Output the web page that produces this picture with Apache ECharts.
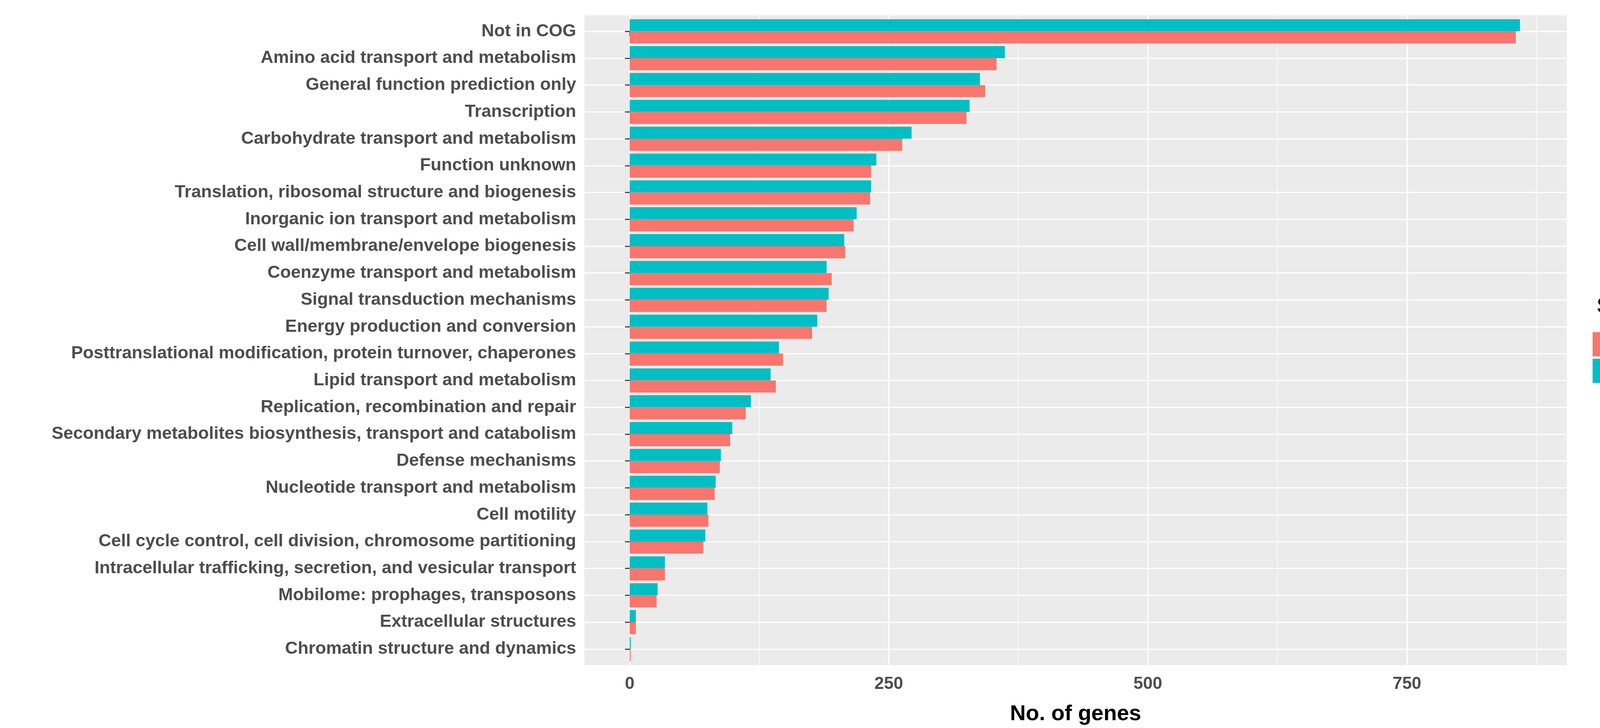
<!DOCTYPE html>
<html>
<head>
<meta charset="utf-8">
<script src="https://cdn.jsdelivr.net/npm/echarts@6/dist/echarts.min.js"></script>
<style>
html,body{margin:0;padding:0;background:#fff;overflow:hidden;}
#chart{width:4304px;height:1863px;}
</style>
</head>
<body>
<div id="chart"></div>
<script>
const categories = [
  "Not in COG",
  "Amino acid transport and metabolism",
  "General function prediction only",
  "Transcription",
  "Carbohydrate transport and metabolism",
  "Function unknown",
  "Translation, ribosomal structure and biogenesis",
  "Inorganic ion transport and metabolism",
  "Cell wall/membrane/envelope biogenesis",
  "Coenzyme transport and metabolism",
  "Signal transduction mechanisms",
  "Energy production and conversion",
  "Posttranslational modification, protein turnover, chaperones",
  "Lipid transport and metabolism",
  "Replication, recombination and repair",
  "Secondary metabolites biosynthesis, transport and catabolism",
  "Defense mechanisms",
  "Nucleotide transport and metabolism",
  "Cell motility",
  "Cell cycle control, cell division, chromosome partitioning",
  "Intracellular trafficking, secretion, and vesicular transport",
  "Mobilome: prophages, transposons",
  "Extracellular structures",
  "Chromatin structure and dynamics"
];
const values7P  = [859, 362, 338, 328, 272, 238, 233, 219, 207, 190, 192, 181, 144, 136, 117, 99, 88, 83, 75, 73, 34, 27, 6, 1];
const values319 = [855, 354, 343, 325, 263, 233, 232, 216, 208, 195, 190, 176, 148, 141, 112, 97, 87, 82, 76, 71, 34, 26, 6, 1];
const majorTicks = [0, 250, 500, 750];
const minorTicks = [125, 375, 625, 875];
const xMin = -43.7, xMax = 904.2;

const FONT = "'Liberation Sans', Arial, sans-serif";
const chart = echarts.init(document.getElementById('chart'), null, {renderer: 'canvas'});

const panelLeft = 1496, panelWidth = 2515, panelTop = 39, panelHeight = 1663;
const expand = 0.6;
const band = panelHeight / (categories.length - 1 + 2 * expand);
const dataTop = panelTop + (expand - 0.5) * band;
const dataHeight = band * categories.length;

const option = {
  animation: false,
  backgroundColor: '#ffffff',
  title: {
    text: 'Strain',
    left: 4088, top: 757, padding: 0,
    textStyle: {fontFamily: FONT, fontSize: 56, fontWeight: 'bold', color: '#000000'}
  },
  legend: {
    data: ['3-19', '7P'],
    orient: 'vertical',
    left: 4077, top: 850, padding: 0,
    itemWidth: 60, itemHeight: 62, itemGap: 6,
    icon: 'rect',
    textStyle: {fontFamily: FONT, fontSize: 45, fontWeight: 'bold', color: '#000000', padding: [0, 0, 0, 28]}
  },
  grid: [
    {left: panelLeft, top: panelTop, width: panelWidth, height: panelHeight, show: true, backgroundColor: '#EBEBEB', borderWidth: 0, containLabel: false},
    {left: panelLeft, top: dataTop, width: panelWidth, height: dataHeight, show: false, containLabel: false}
  ],
  xAxis: [
    {
      type: 'value', gridIndex: 0, min: xMin, max: xMax,
      axisLine: {show: false},
      axisTick: {show: true, length: 12, customValues: majorTicks, lineStyle: {color: '#333333', width: 2.7}},
      axisLabel: {show: true, customValues: majorTicks, margin: 27, fontFamily: FONT, fontSize: 44, fontWeight: 'bold', color: '#4D4D4D'},
      splitLine: {show: true, lineStyle: {color: '#FFFFFF', width: 3}},
      name: 'No. of genes', nameLocation: 'middle', nameGap: 98,
      nameTextStyle: {fontFamily: FONT, fontSize: 56, fontWeight: 'bold', color: '#000000'}
    },
    {
      type: 'value', gridIndex: 0, min: xMin, max: xMax,
      axisLine: {show: false},
      axisTick: {show: false, customValues: minorTicks},
      axisLabel: {show: false, customValues: minorTicks},
      splitLine: {show: true, lineStyle: {color: '#FFFFFF', width: 1.5}}
    },
    {
      type: 'value', gridIndex: 1, min: xMin, max: xMax, show: false
    }
  ],
  yAxis: [
    {
      type: 'value', gridIndex: 0, inverse: true, min: -expand, max: categories.length - 1 + expand,
      axisLine: {show: false},
      axisTick: {show: false, customValues: categories.map((c, i) => i)},
      axisLabel: {show: false, customValues: categories.map((c, i) => i)},
      splitLine: {show: true, lineStyle: {color: '#FFFFFF', width: 3}}
    },
    {
      type: 'category', gridIndex: 1, inverse: true, data: categories,
      axisLine: {show: false},
      axisTick: {show: true, alignWithLabel: true, length: 12, lineStyle: {color: '#333333', width: 2.7}},
      axisLabel: {show: true, margin: 21, interval: 0, fontFamily: FONT, fontSize: 45, fontWeight: 'bold', color: '#4D4D4D'},
      splitLine: {show: false}
    }
  ],
  series: [
    {
      name: '7P', type: 'bar', xAxisIndex: 2, yAxisIndex: 1, data: values7P,
      barGap: '0%', barCategoryGap: '10%',
      itemStyle: {color: '#00BFC4'}, z: 3
    },
    {
      name: '3-19', type: 'bar', xAxisIndex: 2, yAxisIndex: 1, data: values319,
      barGap: '0%', barCategoryGap: '10%',
      itemStyle: {color: '#F8766D'}, z: 3
    }
  ]
};
chart.setOption(option);
</script>
</body>
</html>
